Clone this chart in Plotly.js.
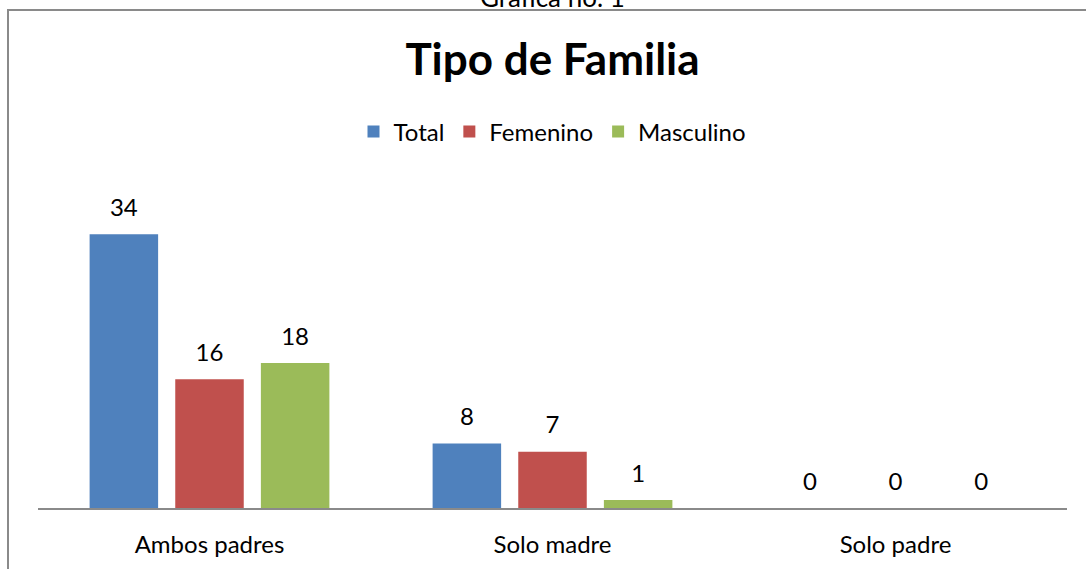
<!DOCTYPE html>
<html>
<head>
<meta charset="utf-8">
<script src="https://cdn.plot.ly/plotly-3.0.1.min.js"></script>
<style>
html,body{margin:0;padding:0;background:#fff;}
#wrap{position:relative;width:1086px;height:569px;overflow:hidden;}
#chart{position:absolute;left:0;top:0;width:1086px;height:569px;}
#frame{position:absolute;left:7px;top:9px;width:1200px;height:700px;border-left:2px solid #8a8a8a;border-top:2px solid #8a8a8a;pointer-events:none;}
</style>
</head>
<body>
<div id="wrap">
<div id="chart"></div>
<div id="frame"></div>
</div>
<script>
var categories = ["Ambos padres", "Solo madre", "Solo padre"];
var seriesNames = ["Total", "Femenino", "Masculino"];
var totalValues = [34, 8, 0];
var femeninoValues = [16, 7, 0];
var masculinoValues = [18, 1, 0];
var seriesColors = ["#4F81BD", "#C0504D", "#9BBB59"];
var chartTitle = "Tipo de Familia";
var captionText = "Gráfica no. 1";

var FONT = "Lato, 'Open Sans', sans-serif";
var allValues = [totalValues, femeninoValues, masculinoValues];

var traces = [];
allValues.forEach(function(vals, i){
  traces.push({
    type: "bar",
    name: seriesNames[i],
    x: categories,
    y: vals,
    marker: {color: seriesColors[i], line: {width: 0}},
    hoverinfo: "x+y+name"
  });
});
allValues.forEach(function(vals, i){
  traces.push({
    type: "scatter",
    mode: "markers+text",
    x: categories,
    y: vals,
    text: vals.map(String),
    textposition: "top center",
    textfont: {family: FONT, size: 24, color: "#000"},
    marker: {size: 18, color: "rgba(0,0,0,0)", line: {width: 0}},
    showlegend: false,
    hoverinfo: "skip",
    cliponaxis: false
  });
});

var layout = {
  width: 1086,
  height: 569,
  margin: {l: 38, r: 19, t: 186, b: 61, pad: 0},
  paper_bgcolor: "rgba(0,0,0,0)",
  plot_bgcolor: "rgba(0,0,0,0)",
  barmode: "group",
  bargap: 0.251,
  bargroupgap: 0.2,
  scattermode: "group",
  scattergap: 0.251,
  font: {family: FONT, size: 24, color: "#000"},
  title: {
    text: "<b>" + chartTitle + "</b>",
    font: {family: FONT, size: 44, color: "#000"},
    x: 0.5, xref: "paper", xanchor: "center",
    y: 1 - 60/569, yref: "container", yanchor: "middle"
  },
  showlegend: true,
  legend: {
    orientation: "h",
    x: 0.5, xanchor: "center",
    y: 1 + 54/322, yanchor: "middle",
    font: {family: FONT, size: 24, color: "#000"},
    bgcolor: "rgba(0,0,0,0)",
    traceorder: "normal"
  },
  xaxis: {
    type: "category",
    range: [-0.5, 2.5],
    showgrid: false,
    zeroline: false,
    showline: true,
    linecolor: "#8a8a8a",
    linewidth: 2,
    ticks: "",
    ticklabelstandoff: 14,
    tickfont: {family: FONT, size: 24, color: "#000"},
    fixedrange: true
  },
  yaxis: {
    range: [0, 40],
    visible: false,
    showgrid: false,
    zeroline: false,
    fixedrange: true
  },
  annotations: [{
    text: captionText,
    xref: "paper", yref: "paper",
    x: 0.5, y: 1,
    xanchor: "center", yanchor: "middle",
    yshift: 189,
    showarrow: false,
    font: {family: FONT, size: 26, color: "#000"}
  }]
};

Plotly.newPlot("chart", traces, layout, {displayModeBar: false, staticPlot: true});
</script>
</body>
</html>
